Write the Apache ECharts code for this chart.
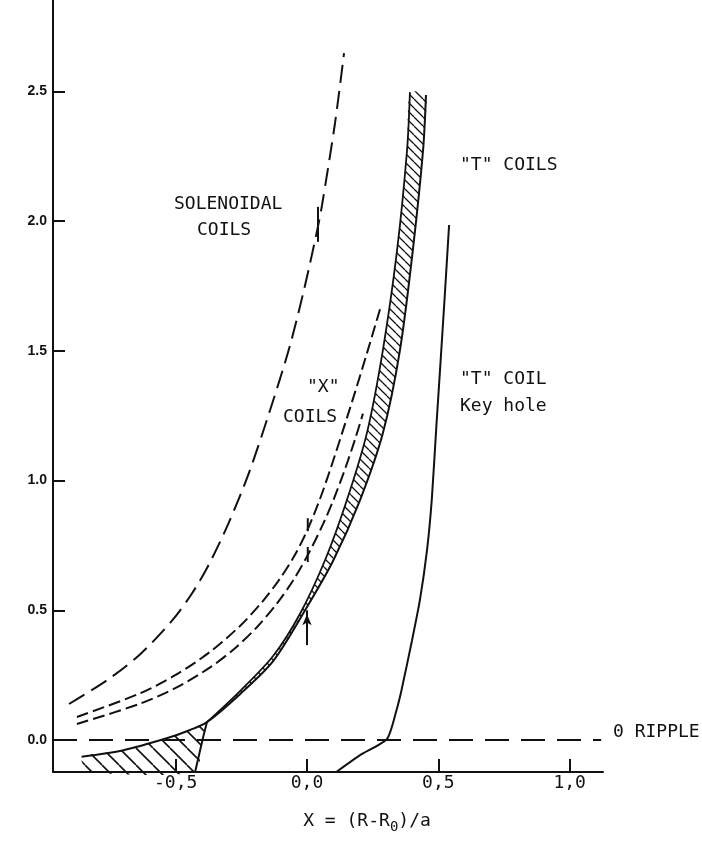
<!DOCTYPE html>
<html>
<head>
<meta charset="utf-8">
<script src="https://cdn.jsdelivr.net/npm/echarts@6/dist/echarts.min.js"></script>
<style>
  html, body { margin: 0; padding: 0; background: #fff; }
  #chart { width: 702px; height: 854px; }
</style>
</head>
<body>
<div id="chart"></div>
<script>
// ticks
var xTicks = [-0.5, 0, 0.5, 1.0];
var yTicks = [0, 0.5, 1.0, 1.5, 2.0, 2.5];

// solenoidal coils (long dashes)
var solX = [-0.906, -0.761, -0.636, -0.514, -0.438, -0.377, -0.301, -0.221, -0.141, -0.065, -0.008, 0.042, 0.057, 0.107, 0.141];
var solY = [0.139, 0.231, 0.33, 0.46, 0.565, 0.67, 0.83, 1.03, 1.27, 1.52, 1.75, 1.98, 2.06, 2.38, 2.647];

// "X" coils, two dashed lines
var xUpX = [-0.876, -0.636, -0.5, -0.369, -0.255, -0.171, -0.103, -0.049, 0.0, 0.049, 0.088, 0.133, 0.183, 0.228, 0.278];
var xUpY = [0.089, 0.18, 0.251, 0.34, 0.44, 0.532, 0.622, 0.708, 0.806, 0.928, 1.041, 1.181, 1.341, 1.49, 1.66];
var xLoX = [-0.876, -0.636, -0.5, -0.369, -0.274, -0.190, -0.114, -0.053, 0.004, 0.061, 0.099, 0.145, 0.183, 0.213];
var xLoY = [0.062, 0.14, 0.201, 0.28, 0.354, 0.436, 0.527, 0.615, 0.715, 0.832, 0.921, 1.045, 1.159, 1.258];

// "T" coils band, left edge and right edge (right edge starts at the lower hatched zone)
var bandAX = [-0.381, -0.255, -0.129, -0.027, 0.069, 0.152, 0.228, 0.289, 0.343, 0.381, 0.392];
var bandAY = [0.069, 0.189, 0.324, 0.486, 0.694, 0.925, 1.183, 1.503, 1.888, 2.274, 2.497];
var bandBX = [-0.858, -0.699, -0.534, -0.445, -0.381, -0.255, -0.129, 0.0, 0.099, 0.202, 0.289, 0.354, 0.403, 0.442, 0.453];
var bandBY = [-0.064, -0.039, 0.007, 0.039, 0.069, 0.177, 0.304, 0.513, 0.69, 0.925, 1.183, 1.503, 1.888, 2.274, 2.486];

// lower hatched zone, right side down to the axis
var edgeX = [-0.381, -0.395, -0.426];
var edgeY = [0.069, 0.013, -0.123];
var zoneLeftX = -0.834;

// "T" coil key hole (solid)
var keyX = [0.113, 0.202, 0.305, 0.341, 0.360, 0.40, 0.43, 0.457, 0.475, 0.492, 0.508, 0.525, 0.541];
var keyY = [-0.122, -0.058, 0.005, 0.116, 0.193, 0.385, 0.54, 0.732, 0.925, 1.2, 1.45, 1.72, 1.985];

// 0 ripple line
var ripX = [-0.967, 1.12];
var ripY = [0, 0];

// arrow and small marks at x = 0
var arrowX = [0.0, 0.0];
var arrowY = [0.366, 0.50];
var markAX = [0.003, 0.003];
var markAY = [0.805, 0.855];
var markBX = [0.003, 0.003];
var markBY = [0.686, 0.744];
var markCX = [0.042, 0.042];
var markCY = [1.92, 2.055];

var ink = '#111';
var mono = '"DejaVu Sans Mono", monospace';

function pairs(xs, ys) {
  var out = [];
  for (var i = 0; i < xs.length; i++) {
    out.push([xs[i], ys[i]]);
  }
  return out;
}

function hatch(step, w) {
  var c = document.createElement('canvas');
  c.width = step;
  c.height = step;
  var ctx = c.getContext('2d');
  ctx.strokeStyle = ink;
  ctx.lineWidth = w;
  ctx.beginPath();
  for (var k = -1; k <= 1; k++) {
    ctx.moveTo(k * step, 0);
    ctx.lineTo(k * step + step, step);
  }
  ctx.stroke();
  return c;
}

function lineSeries(xs, ys, dash, width, smooth) {
  return {
    type: 'line',
    data: pairs(xs, ys),
    showSymbol: false,
    smooth: smooth,
    lineStyle: { color: ink, width: width, type: dash },
    silent: true,
    z: 3
  };
}

function hatchSeries(xs, ys, step, w) {
  return {
    type: 'custom',
    coordinateSystem: 'cartesian2d',
    data: [[xs[0], ys[0]]],
    silent: true,
    z: 2,
    renderItem: function (params, api) {
      var pts = [];
      for (var i = 0; i < xs.length; i++) {
        pts.push(api.coord([xs[i], ys[i]]));
      }
      return {
        type: 'polygon',
        shape: { points: pts, smooth: 0.2 },
        style: { fill: { image: hatch(step, w), repeat: 'repeat' }, stroke: null }
      };
    }
  };
}

// band polygon: left edge up, right edge back down
var bandPolyX = bandAX.slice();
var bandPolyY = bandAY.slice();
for (var i = bandBX.length - 1; i >= 4; i--) {
  bandPolyX.push(bandBX[i]);
  bandPolyY.push(bandBY[i]);
}

// lower zone polygon
var zonePolyX = bandBX.slice(0, 5).concat(edgeX.slice(1), [zoneLeftX]);
var zonePolyY = bandBY.slice(0, 5).concat(edgeY.slice(1), [-0.123]);

var chart = echarts.init(document.getElementById('chart'));

var option = {
  animation: false,
  backgroundColor: '#fff',
  grid: { left: 53, right: 99, top: 0, bottom: 82, containLabel: false },
  xAxis: {
    type: 'value',
    min: -0.967,
    max: 1.127,
    axisLine: { onZero: false, lineStyle: { color: ink, width: 2 } },
    axisTick: { inside: true, length: 13, lineStyle: { color: ink, width: 2 }, customValues: xTicks },
    axisLabel: {
      customValues: xTicks,
      margin: 2,
      color: ink,
      fontFamily: mono,
      fontSize: 18,
      formatter: function (v) { return v.toFixed(1).replace('.', ','); }
    },
    splitLine: { show: false },
    name: 'X = (R-R{sub|0})/a',
    nameLocation: 'middle',
    nameGap: 36,
    nameTextStyle: {
      color: ink,
      fontFamily: mono,
      fontSize: 18,
      padding: [0, 0, 0, 78],
      rich: { sub: { fontFamily: mono, fontSize: 14, color: ink, padding: [12, 0, 0, 0] } }
    }
  },
  yAxis: {
    type: 'value',
    min: -0.123,
    max: 2.852,
    axisLine: { onZero: false, lineStyle: { color: ink, width: 2 } },
    axisTick: { inside: true, length: 12, lineStyle: { color: ink, width: 2 }, customValues: yTicks },
    axisLabel: {
      customValues: yTicks,
      margin: 6,
      color: ink,
      fontFamily: '"Liberation Sans", Arial, sans-serif',
      fontSize: 14,
      fontWeight: 'bold',
      formatter: function (v) { return v.toFixed(1); }
    },
    splitLine: { show: false }
  },
  graphic: [
    { type: 'text', left: 174, top: 195, style: { text: 'SOLENOIDAL', font: '18px ' + mono, fill: ink } },
    { type: 'text', left: 197, top: 221, style: { text: 'COILS', font: '18px ' + mono, fill: ink } },
    { type: 'text', left: 460, top: 156, style: { text: '"T" COILS', font: '18px ' + mono, fill: ink } },
    { type: 'text', left: 307, top: 378, style: { text: '"X"', font: '18px ' + mono, fill: ink } },
    { type: 'text', left: 283, top: 408, style: { text: 'COILS', font: '18px ' + mono, fill: ink } },
    { type: 'text', left: 460, top: 370, style: { text: '"T" COIL', font: '18px ' + mono, fill: ink } },
    { type: 'text', left: 460, top: 397, style: { text: 'Key hole', font: '18px ' + mono, fill: ink } },
    { type: 'text', left: 613, top: 723, style: { text: '0 RIPPLE', font: '18px ' + mono, fill: ink } }
  ],
  series: [
    hatchSeries(zonePolyX, zonePolyY, 17, 1.6),
    hatchSeries(bandPolyX, bandPolyY, 9, 1.3),
    lineSeries(solX, solY, [18, 8], 2, 0.3),
    lineSeries(xUpX, xUpY, [12, 5], 2, 0.3),
    lineSeries(xLoX, xLoY, [12, 5], 2, 0.3),
    lineSeries(bandAX, bandAY, 'solid', 1.8, 0.3),
    lineSeries(bandBX, bandBY, 'solid', 2, 0.3),
    lineSeries(edgeX, edgeY, 'solid', 2, 0),
    lineSeries(keyX, keyY, 'solid', 2, 0.2),
    lineSeries(ripX, ripY, [24, 12], 2, 0),
    {
      type: 'line',
      data: pairs(arrowX, arrowY),
      symbol: function (val, params) { return params.dataIndex === 1 ? 'arrow' : 'none'; },
      symbolSize: [7, 11],
      symbolOffset: [0, 4],
      itemStyle: { color: ink },
      lineStyle: { color: ink, width: 2 },
      silent: true,
      z: 4
    },
    lineSeries(markAX, markAY, 'solid', 2, 0),
    lineSeries(markBX, markBY, 'solid', 2, 0),
    lineSeries(markCX, markCY, 'solid', 2, 0)
  ]
};

chart.setOption(option);
</script>
</body>
</html>
